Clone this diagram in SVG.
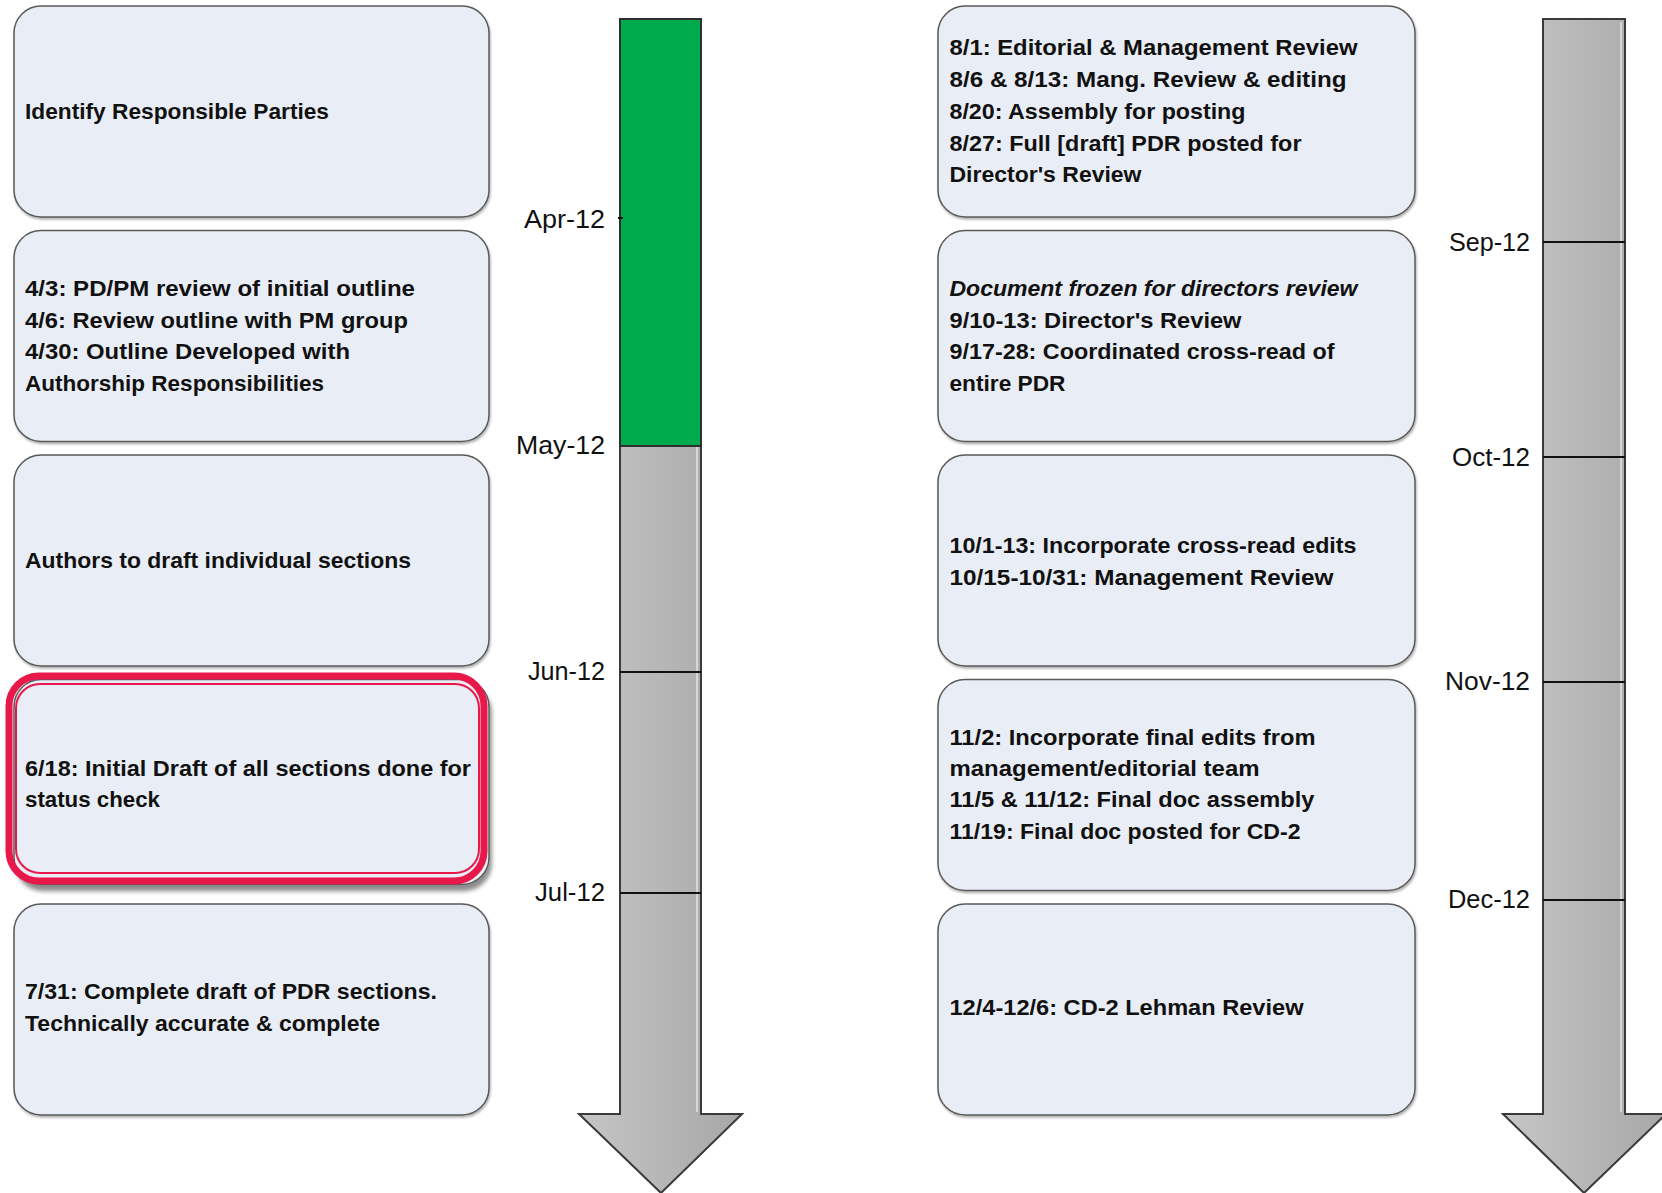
<svg xmlns="http://www.w3.org/2000/svg" width="1662" height="1193" viewBox="0 0 1662 1193">
<defs>
<linearGradient id="barGrad" x1="0" y1="0" x2="1" y2="0">
<stop offset="0" stop-color="#C6C6C6"/>
<stop offset="1" stop-color="#A7A7A7"/>
</linearGradient>
<filter id="shadow" x="-5%" y="-5%" width="115%" height="120%">
<feDropShadow dx="1" dy="2" stdDeviation="1.2" flood-color="#000" flood-opacity="0.3"/>
</filter>
<filter id="shadow2" x="-5%" y="-5%" width="115%" height="120%">
<feDropShadow dx="2" dy="6" stdDeviation="2" flood-color="#000" flood-opacity="0.45"/>
</filter>
</defs>
<style>
.box{fill:#E9EDF5;stroke:#5A5A5A;stroke-width:1.5;}
.t{font-family:"Liberation Sans",Arial,sans-serif;font-size:22.5px;font-weight:bold;fill:#111;}
.it{font-style:italic;}
.lbl{font-family:"Liberation Sans",Arial,sans-serif;font-size:25px;fill:#111;text-anchor:end;}
.bar{fill:url(#barGrad);stroke:#3A3A3A;stroke-width:2;stroke-linejoin:miter;}
.tick{stroke:#111;stroke-width:2;}
.hl{fill:none;stroke:#E8194A;}
</style>

<g id="timelines">
<g id="timeline-left">
<polygon class="bar" points="620,19 701,19 701,1114 742,1114 661,1193 579,1114 620,1114"/>
<line x1="697" y1="446" x2="697" y2="1112" stroke="#F2F2F2" stroke-width="1.2"/>
<rect x="620" y="19" width="81" height="427" fill="#00AB4E" stroke="#2F2F2F" stroke-width="2"/>
<line class="tick" x1="618" y1="218" x2="623" y2="218"/>
<line class="tick" x1="620" y1="672" x2="701" y2="672"/>
<line class="tick" x1="620" y1="893" x2="701" y2="893"/>
<text class="lbl" x="605" y="228" textLength="81" lengthAdjust="spacingAndGlyphs">Apr-12</text>
<text class="lbl" x="605" y="454" textLength="89" lengthAdjust="spacingAndGlyphs">May-12</text>
<text class="lbl" x="605" y="680" textLength="77" lengthAdjust="spacingAndGlyphs">Jun-12</text>
<text class="lbl" x="605" y="901" textLength="70" lengthAdjust="spacingAndGlyphs">Jul-12</text>
</g>
<g id="timeline-right">
<polygon class="bar" points="1543,19 1625,19 1625,1114 1666,1114 1584,1193 1503,1114 1543,1114"/>
<line x1="1621" y1="22" x2="1621" y2="1112" stroke="#F2F2F2" stroke-width="1.2"/>
<line class="tick" x1="1543" y1="242" x2="1625" y2="242"/>
<line class="tick" x1="1543" y1="457" x2="1625" y2="457"/>
<line class="tick" x1="1543" y1="682" x2="1625" y2="682"/>
<line class="tick" x1="1543" y1="900" x2="1625" y2="900"/>
<text class="lbl" x="1530" y="251" textLength="81" lengthAdjust="spacingAndGlyphs">Sep-12</text>
<text class="lbl" x="1530" y="466" textLength="78" lengthAdjust="spacingAndGlyphs">Oct-12</text>
<text class="lbl" x="1530" y="690" textLength="85" lengthAdjust="spacingAndGlyphs">Nov-12</text>
<text class="lbl" x="1530" y="908" textLength="82" lengthAdjust="spacingAndGlyphs">Dec-12</text>
</g>
</g>

<g id="node-l1">
<rect class="box" x="14" y="6" width="475" height="211" rx="27" filter="url(#shadow)"/>
<text class="t" x="25" y="119" textLength="304" lengthAdjust="spacingAndGlyphs">Identify Responsible Parties</text>
</g>
<g id="node-l2">
<rect class="box" x="14" y="230.5" width="475" height="211" rx="27" filter="url(#shadow)"/>
<text class="t" x="25" y="296" textLength="390" lengthAdjust="spacingAndGlyphs">4/3: PD/PM review of initial outline</text>
<text class="t" x="25" y="328" textLength="383" lengthAdjust="spacingAndGlyphs">4/6: Review outline with PM group</text>
<text class="t" x="25" y="359" textLength="325" lengthAdjust="spacingAndGlyphs">4/30: Outline Developed with</text>
<text class="t" x="25" y="391" textLength="299" lengthAdjust="spacingAndGlyphs">Authorship Responsibilities</text>
</g>
<g id="node-l3">
<rect class="box" x="14" y="455" width="475" height="211" rx="27" filter="url(#shadow)"/>
<text class="t" x="25" y="568" textLength="386" lengthAdjust="spacingAndGlyphs">Authors to draft individual sections</text>
</g>
<g id="node-l4">
<rect class="box" x="14" y="679.5" width="475" height="205" rx="27" filter="url(#shadow2)"/>
<rect class="hl" x="9" y="676" width="475" height="205" rx="30" stroke-width="7"/>
<rect class="hl" x="16" y="684" width="463" height="189" rx="24" stroke-width="2"/>
<text class="t" x="25" y="776" textLength="446" lengthAdjust="spacingAndGlyphs">6/18: Initial Draft of all sections done for</text>
<text class="t" x="25" y="807" textLength="135" lengthAdjust="spacingAndGlyphs">status check</text>
</g>
<g id="node-l5">
<rect class="box" x="14" y="904" width="475" height="211" rx="27" filter="url(#shadow)"/>
<text class="t" x="25" y="999" textLength="412" lengthAdjust="spacingAndGlyphs">7/31: Complete draft of PDR sections.</text>
<text class="t" x="25" y="1031" textLength="355" lengthAdjust="spacingAndGlyphs">Technically accurate &amp; complete</text>
</g>

<g id="node-r1">
<rect class="box" x="938" y="6" width="477" height="211" rx="27" filter="url(#shadow)"/>
<text class="t" x="949.5" y="55" textLength="408" lengthAdjust="spacingAndGlyphs">8/1: Editorial &amp; Management Review</text>
<text class="t" x="949.5" y="87" textLength="397" lengthAdjust="spacingAndGlyphs">8/6 &amp; 8/13: Mang. Review &amp; editing</text>
<text class="t" x="949.5" y="119" textLength="296" lengthAdjust="spacingAndGlyphs">8/20: Assembly for posting</text>
<text class="t" x="949.5" y="150.5" textLength="352" lengthAdjust="spacingAndGlyphs">8/27: Full [draft] PDR posted for</text>
<text class="t" x="949.5" y="182" textLength="192" lengthAdjust="spacingAndGlyphs">Director's Review</text>
</g>
<g id="node-r2">
<rect class="box" x="938" y="230.5" width="477" height="211" rx="27" filter="url(#shadow)"/>
<text class="t it" x="949.5" y="296" textLength="408" lengthAdjust="spacingAndGlyphs">Document frozen for directors review</text>
<text class="t" x="949.5" y="328" textLength="292" lengthAdjust="spacingAndGlyphs">9/10-13: Director's Review</text>
<text class="t" x="949.5" y="359" textLength="385" lengthAdjust="spacingAndGlyphs">9/17-28: Coordinated cross-read of</text>
<text class="t" x="949.5" y="391" textLength="116" lengthAdjust="spacingAndGlyphs">entire PDR</text>
</g>
<g id="node-r3">
<rect class="box" x="938" y="455" width="477" height="211" rx="27" filter="url(#shadow)"/>
<text class="t" x="949.5" y="553" textLength="407" lengthAdjust="spacingAndGlyphs">10/1-13: Incorporate cross-read edits</text>
<text class="t" x="949.5" y="585" textLength="384" lengthAdjust="spacingAndGlyphs">10/15-10/31: Management Review</text>
</g>
<g id="node-r4">
<rect class="box" x="938" y="679.5" width="477" height="211" rx="27" filter="url(#shadow)"/>
<text class="t" x="949.5" y="745" textLength="366" lengthAdjust="spacingAndGlyphs">11/2: Incorporate final edits from</text>
<text class="t" x="949.5" y="776" textLength="310" lengthAdjust="spacingAndGlyphs">management/editorial team</text>
<text class="t" x="949.5" y="807" textLength="365" lengthAdjust="spacingAndGlyphs">11/5 &amp; 11/12: Final doc assembly</text>
<text class="t" x="949.5" y="839" textLength="351" lengthAdjust="spacingAndGlyphs">11/19: Final doc posted for CD-2</text>
</g>
<g id="node-r5">
<rect class="box" x="938" y="904" width="477" height="211" rx="27" filter="url(#shadow)"/>
<text class="t" x="949.5" y="1015" textLength="354" lengthAdjust="spacingAndGlyphs">12/4-12/6: CD-2 Lehman Review</text>
</g>
</svg>
